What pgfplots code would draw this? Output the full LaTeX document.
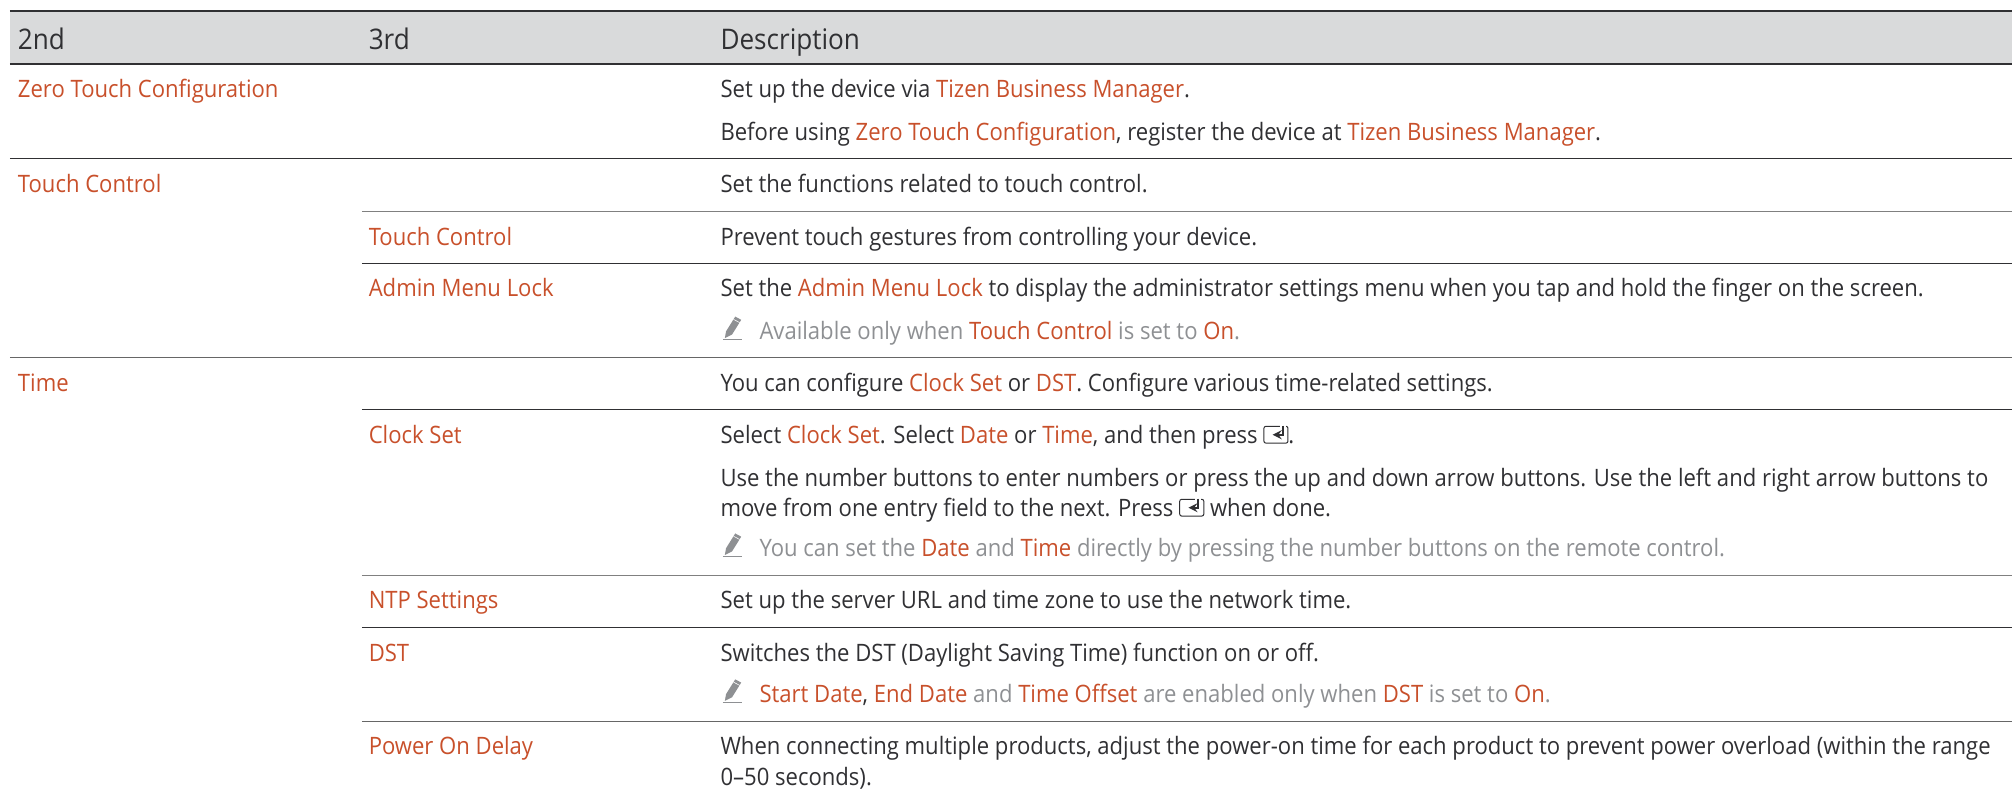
\documentclass[border=0pt]{standalone}
\usepackage{pgfplots}
\pgfplotsset{compat=1.18}
\usepackage{fontspec}
\setmainfont[FakeStretch=0.92]{Open Sans}
\definecolor{hl}{HTML}{C8502B}
\definecolor{txt}{HTML}{303033}
\definecolor{nt}{HTML}{8E9093}
\definecolor{hd}{HTML}{D9DADB}
\newcommand{\h}[1]{\textcolor{hl}{#1}}
\newcommand{\ent}{\tikz[baseline=0pt]{\draw[txt,line width=.5pt,rounded corners=1pt](.3,.3pt) rectangle (12.2pt,8.7pt);\fill[white](8pt,9.5pt) rectangle (11pt,7pt);\draw[txt,line width=1pt,-stealth](9.5pt,9pt)--(9.5pt,4.5pt)--(4.5pt,4.5pt);}}
\newcommand{\pen}{\tikz[baseline=0pt]{\draw[nt,line width=.3pt](0,0)--(9.5pt,0);\fill[nt](1pt,.8pt)--(1.6pt,4.2pt)--(6.2pt,11.6pt)--(9.2pt,10pt)--(4.6pt,2.6pt)--cycle;\draw[white,line width=.3pt](5.4pt,10.2pt)--(8.4pt,8.6pt);}}
\tikzset{T/.style={font=\fontsize{12}{14}\selectfont,text=txt,anchor=base west,inner sep=0pt,outer sep=0pt},
 H/.style={T,font=\fontsize{14.2}{16}\selectfont}}
\begin{document}
\begin{tikzpicture}
\begin{axis}[hide axis,scale only axis,width=1006.5pt,height=399pt,
  xmin=0,xmax=2013,ymin=0,ymax=798,y dir=reverse,clip=false]
\path (axis cs:0,0) (axis cs:2013,798);
\addplot[fill=hd,draw=none] coordinates {(10,11)(2013,11)(2013,64)(10,64)} -- cycle;
\addplot[txt,line width=1.3pt] coordinates {(10,11)(2013,11)};
\addplot[txt,line width=1.3pt] coordinates {(10,64)(2013,64)};
\addplot[txt,line width=.5pt] coordinates {(10,159)(2013,159)};
\addplot[gray,line width=.6pt] coordinates {(362,212)(2013,212)};
\addplot[txt,line width=.5pt] coordinates {(362,264)(2013,264)};
\addplot[gray!80!black,line width=.6pt] coordinates {(10,358)(2013,358)};
\addplot[txt,line width=.5pt] coordinates {(362,410)(2013,410)};
\addplot[gray,line width=.6pt] coordinates {(362,576)(2013,576)};
\addplot[txt,line width=.5pt] coordinates {(362,628)(2013,628)};
\addplot[gray!80!black,line width=.6pt] coordinates {(362,722)(2013,722)};
\node[H] at (axis cs:18,50) {2nd};
\node[H] at (axis cs:369,50) {3rd};
\node[H] at (axis cs:721,50) {Description};
\node[T] at (axis cs:18,98) {\h{Zero Touch Configuration}};
\node[T] at (axis cs:721,98) {Set up the device via \h{Tizen Business Manager}.};
\node[T] at (axis cs:721,141) {Before using \h{Zero Touch Configuration}, register the device at \h{Tizen Business Manager}.};
\node[T] at (axis cs:18,193) {\h{Touch Control}};
\node[T] at (axis cs:721,193) {Set the functions related to touch control.};
\node[T] at (axis cs:369,246) {\h{Touch Control}};
\node[T] at (axis cs:721,246) {Prevent touch gestures from controlling your device.};
\node[T] at (axis cs:369,297) {\h{Admin Menu Lock}};
\node[T] at (axis cs:721,297) {Set the \h{Admin Menu Lock} to display the administrator settings menu when you tap and hold the finger on the screen.};
\node[T] at (axis cs:723,340) {\pen};
\node[T] at (axis cs:760,340) {\textcolor{nt}{Available only when \h{Touch Control} is set to \h{On}.}};
\node[T] at (axis cs:18,392) {\h{Time}};
\node[T] at (axis cs:721,392) {You can configure \h{Clock Set} or \h{DST}. Configure various time-related settings.};
\node[T] at (axis cs:369,444) {\h{Clock Set}};
\node[T] at (axis cs:721,444) {Select \h{Clock Set}. Select \h{Date} or \h{Time}, and then press \ent.};
\node[T] at (axis cs:721,487) {Use the number buttons to enter numbers or press the up and down arrow buttons. Use the left and right arrow buttons to};
\node[T] at (axis cs:721,517) {move from one entry field to the next. Press \ent{} when done.};
\node[T] at (axis cs:723,557) {\pen};
\node[T] at (axis cs:760,557) {\textcolor{nt}{You can set the \h{Date} and \h{Time} directly by pressing the number buttons on the remote control.}};
\node[T] at (axis cs:369,609) {\h{NTP Settings}};
\node[T] at (axis cs:721,609) {Set up the server URL and time zone to use the network time.};
\node[T] at (axis cs:369,662) {\h{DST}};
\node[T] at (axis cs:721,662) {Switches the DST (Daylight Saving Time) function on or off.};
\node[T] at (axis cs:723,703) {\pen};
\node[T] at (axis cs:760,703) {\h{Start Date}, \h{End Date} \textcolor{nt}{and} \h{Time Offset} \textcolor{nt}{are enabled only when} \h{DST} \textcolor{nt}{is set to} \h{On}\textcolor{nt}{.}};
\node[T] at (axis cs:369,755) {\h{Power On Delay}};
\node[T] at (axis cs:721,755) {When connecting multiple products, adjust the power-on time for each product to prevent power overload (within the range};
\node[T] at (axis cs:721,786) {0–50 seconds).};
\end{axis}
\end{tikzpicture}
\end{document}
